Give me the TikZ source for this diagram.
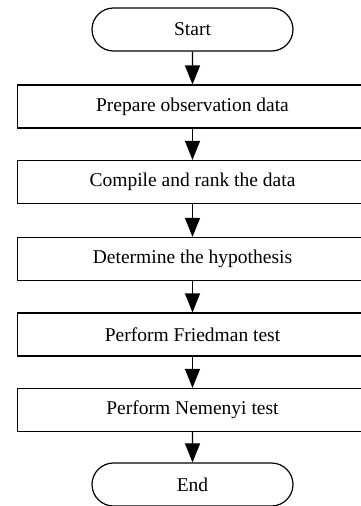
\documentclass[tikz,border=0pt]{standalone}
\usepackage{fontspec}
\setmainfont{Liberation Serif}
\usetikzlibrary{arrows.meta,shapes.misc}
\begin{document}
\begin{tikzpicture}[x=1pt,y=-1pt,
  every node/.style={font=\fontsize{19.5}{22}\selectfont, inner sep=0pt},
  term/.style={draw, line width=1.2pt, rounded rectangle, minimum width=201pt, minimum height=43pt},
  proc/.style={draw, line width=1.2pt, rectangle, minimum width=350pt, minimum height=43pt},
  arr/.style={line width=1.2pt, -{Triangle[length=19pt,width=15pt]}}]
\useasboundingbox (0,0) rectangle (361,506);
\clip (0,0) rectangle (361,506);
\node[term] (start) at (192.5,29.5) {Start};
\node[proc] (p1) at (192.5,106.5) {Prepare observation data};
\node[proc] (p2) at (192.5,182) {Compile and rank the data};
\node[proc] (p3) at (192.5,259) {Determine the hypothesis};
\node[proc] (p4) at (192.5,334.5) {Perform Friedman test};
\node[proc] (p5) at (192.5,410) {Perform Nemenyi test};
\node[term] (end) at (192.5,484.5) {End};
\draw[arr] (start) -- (p1);
\draw[arr] (p1) -- (p2);
\draw[arr] (p2) -- (p3);
\draw[arr] (p3) -- (p4);
\draw[arr] (p4) -- (p5);
\draw[arr] (p5) -- (end);
\end{tikzpicture}
\end{document}
